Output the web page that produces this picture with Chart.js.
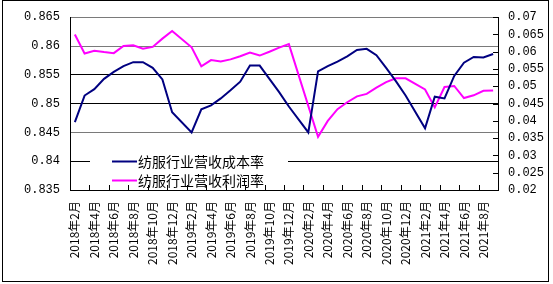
<!DOCTYPE html>
<html><head><meta charset="utf-8">
<script src="https://cdn.jsdelivr.net/npm/chart.js@4/dist/chart.umd.min.js"></script>
<style>html,body{margin:0;padding:0;background:#fff;overflow:hidden}#wrap{width:553px;height:284px;position:relative}</style>
</head><body><div id="wrap"><canvas id="c" width="553" height="284"></canvas></div>
<script>
const categories = [
 '2018年2月','2018年3月','2018年4月','2018年5月','2018年6月','2018年7月','2018年8月','2018年9月','2018年10月','2018年11月','2018年12月',
 '2019年1月','2019年2月','2019年3月','2019年4月','2019年5月','2019年6月','2019年7月','2019年8月','2019年9月','2019年10月','2019年11月','2019年12月',
 '2020年1月','2020年2月','2020年3月','2020年4月','2020年5月','2020年6月','2020年7月','2020年8月','2020年9月','2020年10月','2020年11月','2020年12月',
 '2021年1月','2021年2月','2021年3月','2021年4月','2021年5月','2021年6月','2021年7月','2021年8月','2021年9月'
];
const seriesNames = ['纺服行业营收成本率','纺服行业营收利润率'];
const costRate = [
 0.8468,0.8514,0.8525,0.8543,0.8555,0.8565,0.8572,0.8572,0.8562,0.8542,0.8485,
 null,0.8450,0.8490,0.8497,0.8509,0.8523,0.8538,0.8566,0.8566,0.8543,0.8520,0.8495,
 null,0.8450,0.8556,0.8565,0.8573,0.8582,0.8593,0.8595,0.8584,0.8562,0.8539,0.8514,
 null,0.8457,0.8512,0.8509,0.8548,0.8571,0.8581,0.8580,0.8586
];
const profitRate = [
 0.0650,0.0595,0.0603,0.0599,0.0596,0.0617,0.0619,0.0609,0.0614,0.0638,0.0660,
 null,0.0613,0.0558,0.0576,0.0572,0.0578,0.0587,0.0598,0.0589,0.0600,0.0612,0.0622,
 null,null,0.0354,0.0400,0.0434,0.0454,0.0471,0.0478,0.0496,0.0512,0.0523,0.0523,
 null,0.0491,0.0439,0.0498,0.0501,0.0466,0.0474,0.0487,0.0488
];
const leftTicks = [0.835,0.84,0.845,0.85,0.855,0.86,0.865];
const leftTickLabels = ['0.835','0.84','0.845','0.85','0.855','0.86','0.865'];
const rightTicks = [0.02,0.025,0.03,0.035,0.04,0.045,0.05,0.055,0.06,0.065,0.07];
const rightTickLabels = ['0.02','0.025','0.03','0.035','0.04','0.045','0.05','0.055','0.06','0.065','0.07'];
const seriesColors = ['#000080','#FF00FF'];

const grayGrid = [0.845,0.86,0.865];

const insideTicks = {
  id:'insideTicks',
  afterDraw(chart){
    const ctx=chart.ctx, x=chart.scales.x, yr=chart.scales.yR, a=chart.chartArea;
    ctx.save(); ctx.strokeStyle='#000'; ctx.lineWidth=1; ctx.beginPath();
    for(let i=2;i<categories.length;i+=2){
      const px=Math.round((x.getPixelForValue(i)+x.getPixelForValue(i-1))/2)+0.5;
      ctx.moveTo(px,a.bottom); ctx.lineTo(px,a.bottom-5);
    }
    yr.ticks.forEach(t=>{const py=Math.round(yr.getPixelForValue(t.value))+0.5; ctx.moveTo(a.right,py); ctx.lineTo(a.right-5,py);});
    ctx.stroke();
    ctx.strokeRect(2.5,0.5,546,281);
    ctx.restore();
  }
};
const boxLegend = {
  id:'boxLegend',
  afterDatasetsDraw(chart){
    const ctx=chart.ctx;
    ctx.save();
    ctx.fillStyle='#fff';
    ctx.fillRect(90,145,198,44);
    ctx.font='14px "Noto Sans CJK SC"';
    ctx.textBaseline='middle';
    const rows=[161,180];
    chart.data.datasets.forEach((ds,i)=>{
      const y=rows[i];
      ctx.strokeStyle=ds.borderColor; ctx.lineWidth=2;
      ctx.beginPath(); ctx.moveTo(112,y+0.5); ctx.lineTo(137,y+0.5); ctx.stroke();
      ctx.fillStyle='#000';
      ctx.fillText(ds.label,138,y+0.5);
    });
    ctx.restore();
  }
};

new Chart(document.getElementById('c'),{
  type:'line',
  data:{labels:categories,datasets:[
    {label:seriesNames[0],data:costRate,yAxisID:'y',borderColor:seriesColors[0],borderWidth:2,pointRadius:0,tension:0,spanGaps:true},
    {label:seriesNames[1],data:profitRate,yAxisID:'yR',borderColor:seriesColors[1],borderWidth:2,pointRadius:0,tension:0,spanGaps:true}
  ]},
  options:{
    responsive:false,animation:false,
    layout:{padding:{top:17,left:0,right:0,bottom:0}},
    plugins:{legend:{display:false},tooltip:{enabled:false}},
    scales:{
      x:{offset:true,grid:{display:false,drawTicks:false},border:{display:true,color:'#000',width:1},
         ticks:{autoSkip:false,maxRotation:90,minRotation:90,padding:11,color:'#000',
                font:{family:'"Noto Sans CJK SC"',size:12},
                callback:(v,i)=>i%2===0?categories[i]:''},
         afterFit(s){s.height=94;}},
      y:{position:'left',min:0.835,max:0.865,
         afterBuildTicks(s){s.ticks=leftTicks.map(v=>({value:v}));},
         grid:{drawTicks:false,lineWidth:1,color:c=>grayGrid.some(g=>Math.abs(g-c.tick.value)<1e-6)?'#7a7a7a':'#000'},
         border:{color:'#000',width:1},
         ticks:{autoSkip:false,padding:10,color:'#000',font:{family:'"Liberation Mono"',size:12},callback:(v,i)=>leftTickLabels[i]},
         afterFit(s){s.width=70;}},
      yR:{position:'right',min:0.02,max:0.07,
         afterBuildTicks(s){s.ticks=rightTicks.map(v=>({value:v}));},
         grid:{display:false,drawTicks:false},
         border:{color:'#000',width:1},
         ticks:{autoSkip:false,padding:10,color:'#000',font:{family:'"Liberation Mono"',size:12},callback:(v,i)=>rightTickLabels[i]},
         afterFit(s){s.width=55;}}
    }
  },
  plugins:[boxLegend,insideTicks]
});
</script></body></html>
